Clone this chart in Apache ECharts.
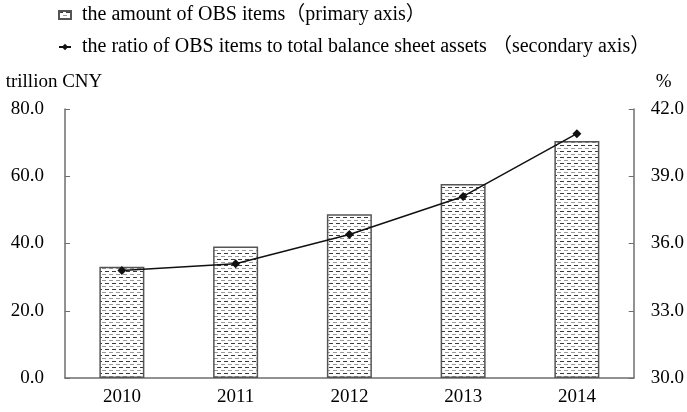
<!DOCTYPE html>
<html>
<head>
<meta charset="utf-8">
<script src="https://cdn.jsdelivr.net/npm/echarts@6/dist/echarts.min.js"></script>
<style>
  html, body { margin: 0; padding: 0; background: #fff; }
  #chart { width: 687px; height: 412px; }
</style>
</head>
<body>
<div id="chart"></div>
<script>
// Off-balance-sheet items of commercial banks, 2010-2014
const years = ['2010', '2011', '2012', '2013', '2014'];
const obsAmount = [33.1, 39.1, 48.7, 57.7, 70.5];   // trillion CNY
const obsRatio = [34.8, 35.1, 36.4, 38.1, 40.9];    // % of total balance sheet assets
const amountTicks = { min: 0, max: 80, interval: 20 };
const ratioTicks = { min: 30, max: 42, interval: 3 };
const amountName = 'the amount of OBS items（primary axis）';
const ratioName = 'the ratio of OBS items to total balance sheet assets （secondary axis）';

// Dashed hatch fill for the bars
function makeHatch() {
  const c = document.createElement('canvas');
  c.width = 7; c.height = 6;
  const g = c.getContext('2d');
  g.fillStyle = '#ffffff';
  g.fillRect(0, 0, 7, 6);
  g.fillStyle = '#3a3a3a';
  g.fillRect(0, 1, 4, 1);
  g.fillStyle = '#9a9a9a';
  g.fillRect(4, 4, 3, 1);
  g.fillRect(0, 4, 1, 1);
  return c;
}
const hatch = { image: makeHatch(), repeat: 'repeat' };

const serif = '"Liberation Serif", "Noto Sans CJK SC", serif';
const axisFont = { fontFamily: serif, fontSize: 19, color: '#000' };
const chart = echarts.init(document.getElementById('chart'), null, { renderer: 'canvas' });

chart.setOption({
  animation: false,
  textStyle: { fontFamily: serif, color: '#000' },
  legend: {
    orient: 'vertical',
    left: 58,
    top: 5,
    padding: 0,
    itemGap: 12,
    itemWidth: 12,
    itemHeight: 8,
    textStyle: { fontFamily: serif, fontSize: 20, color: '#000', padding: [0, 0, 0, 6] },
    data: [
      { name: amountName, icon: 'rect' },
      { name: ratioName }
    ]
  },
  grid: { left: 65, right: 53, top: 109, bottom: 34 },
  xAxis: {
    type: 'category',
    data: years,
    boundaryGap: true,
    axisLine: { lineStyle: { color: '#6e6e6e', width: 1.5 } },
    axisTick: { inside: true, length: 5, lineStyle: { color: '#6e6e6e' } },
    axisLabel: Object.assign({ margin: 10 }, axisFont)
  },
  yAxis: [
    {
      type: 'value',
      min: amountTicks.min, max: amountTicks.max, interval: amountTicks.interval,
      name: 'trillion CNY',
      nameLocation: 'end',
      nameGap: 17,
      nameTextStyle: Object.assign({ align: 'center', padding: [0, 22, 0, 0] }, axisFont),
      axisLine: { show: true, lineStyle: { color: '#6e6e6e', width: 1.5 } },
      axisTick: { show: true, inside: true, length: 5, lineStyle: { color: '#6e6e6e' } },
      splitLine: { show: false },
      axisLabel: Object.assign({ margin: 21, formatter: v => v.toFixed(1) }, axisFont)
    },
    {
      type: 'value',
      min: ratioTicks.min, max: ratioTicks.max, interval: ratioTicks.interval,
      name: '%',
      nameLocation: 'end',
      nameGap: 17,
      nameTextStyle: Object.assign({ align: 'left', padding: [0, 0, 0, 22] }, axisFont),
      axisLine: { show: true, lineStyle: { color: '#6e6e6e', width: 1.5 } },
      axisTick: { show: true, inside: true, length: 5, lineStyle: { color: '#6e6e6e' } },
      splitLine: { show: false },
      axisLabel: Object.assign({ margin: 17, formatter: v => v.toFixed(1) }, axisFont)
    }
  ],
  series: [
    {
      name: amountName,
      type: 'bar',
      yAxisIndex: 0,
      data: obsAmount,
      barWidth: 45,
      itemStyle: { color: hatch, borderColor: '#555', borderWidth: 1.5 },
      z: 2
    },
    {
      name: ratioName,
      type: 'line',
      yAxisIndex: 1,
      data: obsRatio,
      symbol: 'diamond',
      symbolSize: 9,
      showSymbol: true,
      lineStyle: { color: '#111', width: 1.5 },
      itemStyle: { color: '#111' },
      z: 5
    }
  ]
});
</script>
</body>
</html>
